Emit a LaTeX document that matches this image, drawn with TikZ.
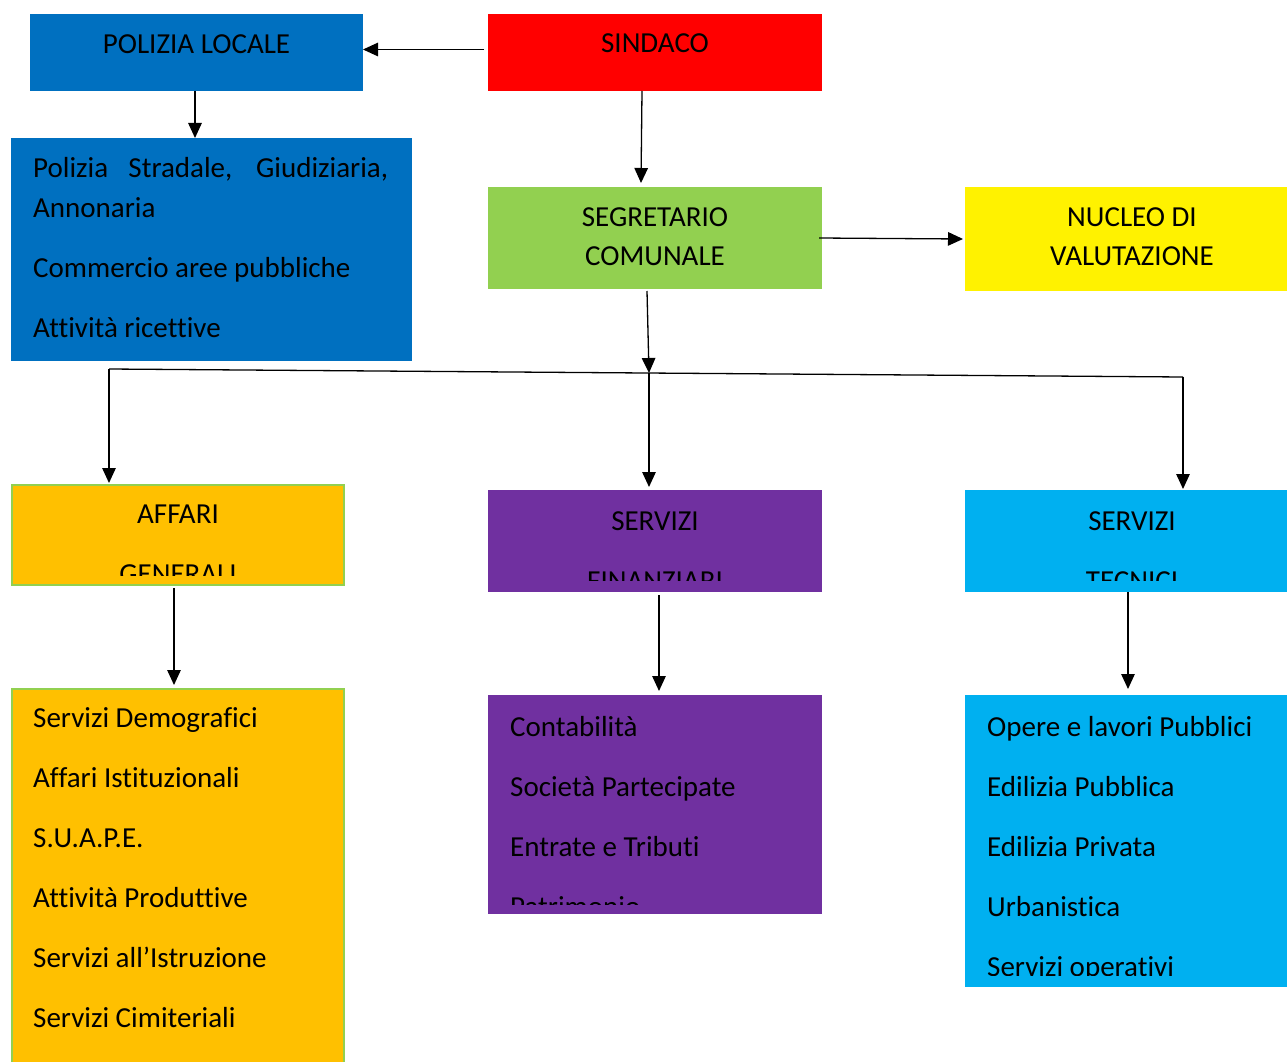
\documentclass[tikz,border=0pt]{standalone}
\usepackage{fontspec}
\setmainfont{Carlito}[Ligatures=NoCommon]
\usetikzlibrary{arrows.meta}
\definecolor{ufblue}{HTML}{0070C0}
\definecolor{ufgreen}{HTML}{92D050}
\definecolor{uforange}{HTML}{FFC000}
\definecolor{ufpurple}{HTML}{7030A0}
\definecolor{ufcyan}{HTML}{00B0F0}
\begin{document}
\begin{tikzpicture}[x=1pt,y=-1pt,
    box/.style={anchor=north west,inner sep=0pt,outer sep=0pt,minimum width=334pt},
    txt/.style={inner sep=0pt,anchor=north,align=center,
      font=\fontsize{29}{60}\selectfont,execute at begin node={\rule{0pt}{25pt}}},
    lst/.style={txt,anchor=north west,align=left},
    arr/.style={-{Triangle[length=15pt,width=13.5pt]},line width=1.3pt}]
    \useasboundingbox (0,0) rectangle (1287,1062);
    \clip (0,0) rectangle (1287,1062);

    % Top: sindaco and polizia locale
    \node[box,fill=red,minimum height=77pt] (sindaco) at (488,14) {};
    \node[box,fill=ufblue,minimum width=333pt,minimum height=77pt] (polizia) at (30,14) {};
    \node[box,fill=ufblue,minimum width=401pt,minimum height=223pt] (polcompiti) at (11,138) {};
    \node[txt] at ([yshift=-13pt]sindaco.north) {SINDACO};
    \node[txt] at ([yshift=-14pt]polizia.north) {POLIZIA LOCALE};
    \node[lst,font=\fontsize{29}{40}\selectfont] at ([xshift=22pt,yshift=-19pt]polcompiti.north west)
      {\makebox[355pt][s]{Polizia Stradale, Giudiziaria,}\\Annonaria\\[20pt]
       Commercio aree pubbliche\\[20pt]Attività ricettive};

    % Segretario and nucleo
    \node[box,fill=ufgreen,minimum height=102pt] (segretario) at (488,187) {};
    \node[box,fill=yellow,minimum height=104pt] (nucleo) at (965,187) {};
    \node[txt,font=\fontsize{29}{39}\selectfont] at ([yshift=-20pt]segretario.north) {SEGRETARIO\\COMUNALE};
    \node[txt,font=\fontsize{29}{39}\selectfont] at ([yshift=-20pt]nucleo.north) {NUCLEO DI\\VALUTAZIONE};

    % Three areas
    \node[box,fill=uforange,draw=ufgreen,line width=2pt,minimum width=332pt,minimum height=100pt] (affari) at (12,485) {};
    \node[box,fill=ufpurple,minimum height=102pt] (finanziari) at (488,490) {};
    \node[box,fill=ufcyan,minimum height=102pt] (tecnici) at (965,490) {};
    \begin{scope}
      \clip ([yshift=10pt]affari.south west) rectangle (affari.north east);
      \node[txt] at ([yshift=-20pt]affari.north) {AFFARI\\GENERALI};
    \end{scope}
    \begin{scope}
      \clip ([yshift=12pt]finanziari.south west) rectangle (finanziari.north east);
      \node[txt] at ([yshift=-21pt]finanziari.north) {SERVIZI\\FINANZIARI};
    \end{scope}
    \begin{scope}
      \clip ([yshift=12pt]tecnici.south west) rectangle (tecnici.north east);
      \node[txt] at ([yshift=-21pt]tecnici.north) {SERVIZI\\TECNICI};
    \end{scope}

    % Lists of offices
    \node[box,fill=uforange,draw=ufgreen,line width=2pt,minimum width=332pt,minimum height=380pt] (affcompiti) at (12,689) {};
    \node[box,fill=ufpurple,minimum height=219pt] (fincompiti) at (488,695) {};
    \node[box,fill=ufcyan,minimum height=292pt] (teccompiti) at (965,695) {};
    \node[lst] at ([xshift=21pt,yshift=-18pt]affcompiti.north west)
      {Servizi Demografici\\Affari Istituzionali\\S.U.A.P.E.\\Attività Produttive\\
       Servizi all’Istruzione\\Servizi Cimiteriali};
    \begin{scope}
      \clip ([yshift=10pt]fincompiti.south west) rectangle (fincompiti.north east);
      \node[lst] at ([xshift=22pt,yshift=-21pt]fincompiti.north west)
        {Contabilità\\Società Partecipate\\Entrate e Tributi\\Patrimonio};
    \end{scope}
    \begin{scope}
      \clip ([yshift=12pt]teccompiti.south west) rectangle (teccompiti.north east);
      \node[lst] at ([xshift=22pt,yshift=-21pt]teccompiti.north west)
        {Opere e lavori Pubblici\\Edilizia Pubblica\\Edilizia Privata\\Urbanistica\\Servizi operativi};
    \end{scope}

    % Connectors
    \draw[arr,shorten <=4pt] ([yshift=3pt]sindaco.west) -- ([yshift=3pt]polizia.east);
    \draw[arr] ([xshift=-1.5pt]polizia.south) -- ([xshift=-1.5pt]polizia.south |- polcompiti.north);
    \draw[arr] ([xshift=-13pt]sindaco.south) -- ([xshift=-14pt,yshift=4pt]segretario.north);
    \draw[arr] ([xshift=-3pt]segretario.east) -- ([xshift=-2pt]nucleo.west);

    % Distribution line
    \coordinate (busL) at (109,369);
    \coordinate (busM) at (649,373);
    \coordinate (busR) at (1183,377);
    \draw[arr] ([xshift=-8pt,yshift=-2pt]segretario.south) -- (busM);
    \draw[line width=1.3pt] (busL) -- (busR);
    \draw[arr] (busL) -- ([yshift=2pt]busL |- affari.north);
    \draw[arr] (busM) -- ([yshift=3pt]busM |- finanziari.north);
    \draw[arr] (busR) -- ([yshift=1pt]busR |- tecnici.north);

    \draw[arr] ([xshift=-4pt,yshift=-3pt]affari.south) -- ([xshift=-4pt,yshift=4pt]affcompiti.north);
    \draw[arr] ([xshift=4pt,yshift=-3pt]finanziari.south) -- ([xshift=4pt,yshift=4pt]fincompiti.north);
    \draw[arr] ([xshift=-4pt]tecnici.south) -- ([xshift=-4pt,yshift=6pt]teccompiti.north);
  \end{tikzpicture}
\end{document}
